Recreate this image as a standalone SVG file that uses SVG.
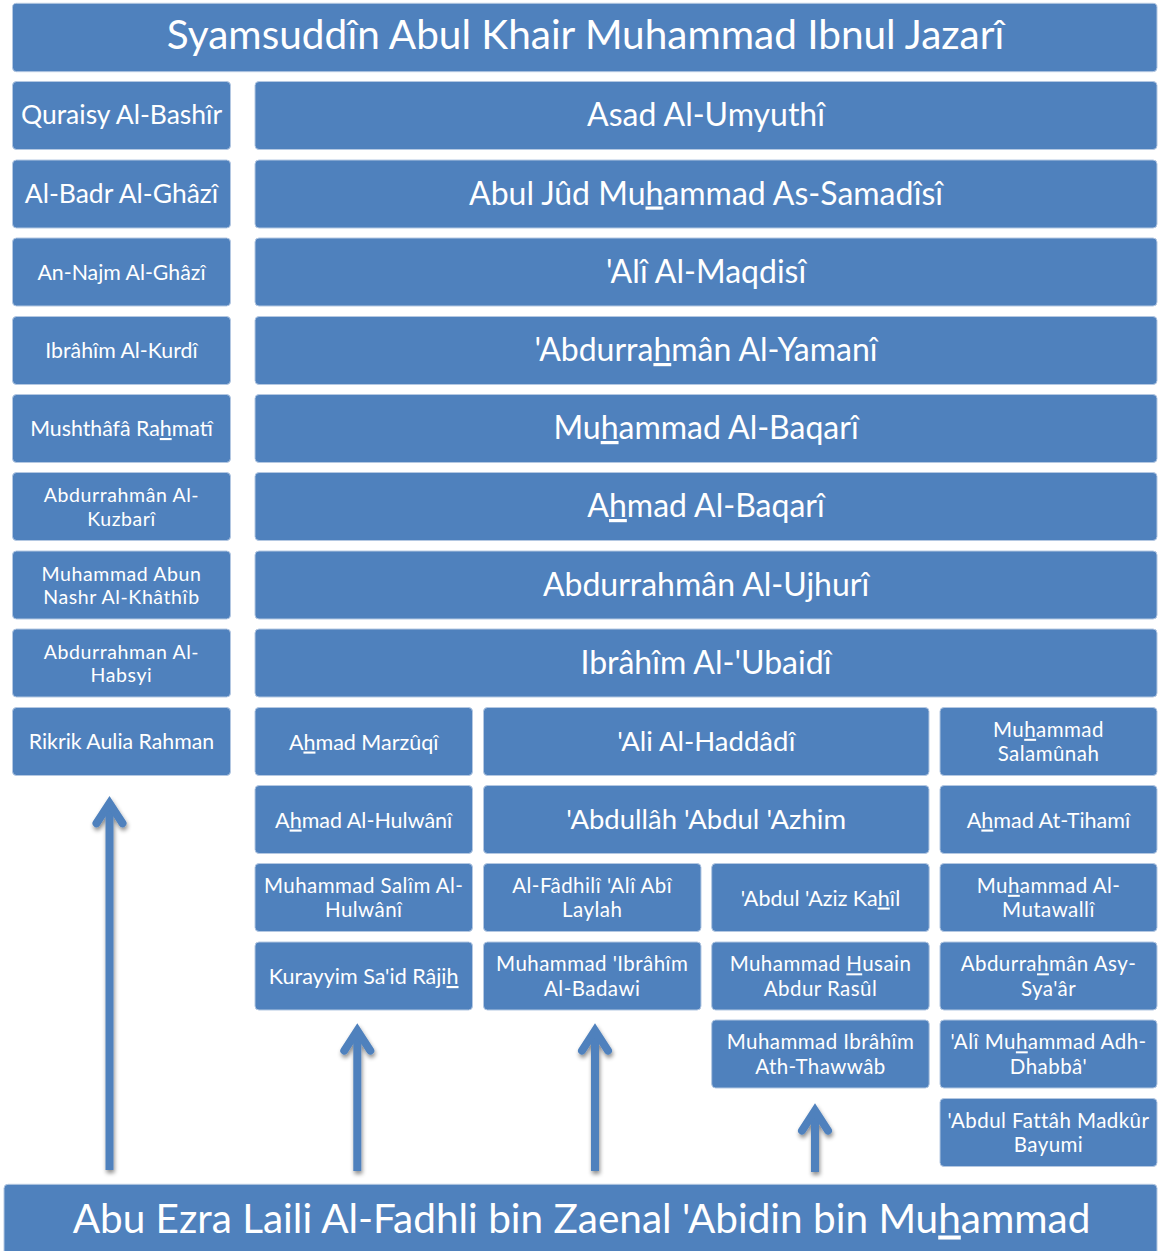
<svg xmlns="http://www.w3.org/2000/svg" width="1164" height="1251" viewBox="0 0 1164 1251">
<style>
.b{fill:#4F81BD;stroke:#B4C8E2;stroke-width:1}
text{font-family:Lato,"Open Sans","DejaVu Sans",sans-serif;fill:#FFFFFF;text-anchor:middle}
.t38{font-size:40.5px}
.t30{font-size:32px}
.t25{font-size:26.5px}
.t24{font-size:27.5px}
.t20{font-size:21.5px}
.t19{font-size:21.3px}
.m20{font-size:20.5px;letter-spacing:0.45px}
.m19{font-size:19.5px;letter-spacing:0.6px}
.u{text-decoration:underline}
.arr{fill:none;stroke:#4F81BD;stroke-width:8}
</style>
<defs>
<filter id="sh" x="-50%" y="-10%" width="200%" height="120%">
<feDropShadow dx="1" dy="3" stdDeviation="2" flood-color="#000" flood-opacity="0.45"/>
</filter>
</defs>
<rect width="1164" height="1251" fill="#FFFFFF"/>

<g id="connectors" filter="url(#sh)">
<g class="arr">
<path d="M109.5,1170 V804"/><path d="M96.5,823.3 L109.5,803.3 L122.5,823.3" stroke-linecap="round"/>
<path d="M357.3,1171 V1031"/><path d="M344.3,1050.6 L357.3,1030.6 L370.3,1050.6" stroke-linecap="round"/>
<path d="M595,1171 V1031"/><path d="M582,1050.6 L595,1030.6 L608,1050.6" stroke-linecap="round"/>
<path d="M815,1172 V1111"/><path d="M802,1130.6 L815,1110.6 L828,1130.6" stroke-linecap="round"/>
</g>
</g>

<g id="n-top"><rect class="b" x="12.5" y="3.3" width="1144.5" height="68.4" rx="4"/><text class="t38" x="585.5" y="49">Syamsuddîn Abul Khair Muhammad Ibnul Jazarî</text></g>

<g id="n-l0"><rect class="b" x="12.5" y="81.5" width="218" height="68" rx="4"/><text class="t25" x="121.5" y="124">Quraisy Al-Bashîr</text></g>
<g id="n-l1"><rect class="b" x="12.5" y="160" width="218" height="68" rx="4"/><text class="t25" x="121.5" y="202.5">Al-Badr Al-Ghâzî</text></g>
<g id="n-l2"><rect class="b" x="12.5" y="238" width="218" height="68" rx="4"/><text class="t19" x="121.5" y="279.5">An-Najm Al-Ghâzî</text></g>
<g id="n-l3"><rect class="b" x="12.5" y="316.5" width="218" height="68" rx="4"/><text class="t19" x="121.5" y="358">Ibrâhîm Al-Kurdî</text></g>
<g id="n-l4"><rect class="b" x="12.5" y="394.5" width="218" height="68" rx="4"/><text class="t19" x="121.5" y="436">Mushthâfâ Ra<tspan class="u">h</tspan>matî</text></g>
<g id="n-l5"><rect class="b" x="12.5" y="472.5" width="218" height="68" rx="4"/><text class="m19" x="121.5" y="502.2">Abdurrahmân Al-<tspan x="121.5" dy="23.4">Kuzbarî</tspan></text></g>
<g id="n-l6"><rect class="b" x="12.5" y="551" width="218" height="68" rx="4"/><text class="m19" x="121.5" y="580.6">Muhammad Abun<tspan x="121.5" dy="23.4">Nashr Al-Khâthîb</tspan></text></g>
<g id="n-l7"><rect class="b" x="12.5" y="629" width="218" height="68" rx="4"/><text class="m19" x="121.5" y="658.6">Abdurrahman Al-<tspan x="121.5" dy="23.4">Habsyi</tspan></text></g>
<g id="n-l8"><rect class="b" x="12.5" y="707.5" width="218" height="68" rx="4"/><text class="t19" x="121.5" y="749">Rikrik Aulia Rahman</text></g>

<g id="n-r0"><rect class="b" x="255" y="81.5" width="902" height="68" rx="4"/><text class="t30" x="706" y="126">Asad Al-Umyuthî</text></g>
<g id="n-r1"><rect class="b" x="255" y="160" width="902" height="68" rx="4"/><text class="t30" x="706" y="204.5">Abul Jûd Mu<tspan class="u">h</tspan>ammad As-Samadîsî</text></g>
<g id="n-r2"><rect class="b" x="255" y="238" width="902" height="68" rx="4"/><text class="t30" x="706" y="282.5">'Alî Al-Maqdisî</text></g>
<g id="n-r3"><rect class="b" x="255" y="316.5" width="902" height="68" rx="4"/><text class="t30" x="706" y="361">'Abdurra<tspan class="u">h</tspan>mân Al-Yamanî</text></g>
<g id="n-r4"><rect class="b" x="255" y="394.5" width="902" height="68" rx="4"/><text class="t30" x="706" y="439">Mu<tspan class="u">h</tspan>ammad Al-Baqarî</text></g>
<g id="n-r5"><rect class="b" x="255" y="472.5" width="902" height="68" rx="4"/><text class="t30" x="706" y="517">A<tspan class="u">h</tspan>mad Al-Baqarî</text></g>
<g id="n-r6"><rect class="b" x="255" y="551" width="902" height="68" rx="4"/><text class="t30" x="706" y="595.5">Abdurrahmân Al-Ujhurî</text></g>
<g id="n-r7"><rect class="b" x="255" y="629" width="902" height="68" rx="4"/><text class="t30" x="706" y="673.5">Ibrâhîm Al-'Ubaidî</text></g>

<g id="n-a8"><rect class="b" x="255" y="707.5" width="217.5" height="68" rx="4"/><text class="t20" x="363.7" y="749.5">A<tspan class="u">h</tspan>mad Marzûqî</text></g>
<g id="n-bc8"><rect class="b" x="483.5" y="707.5" width="445.5" height="68" rx="4"/><text class="t24" x="706.2" y="750.5">'Ali Al-Haddâdî</text></g>
<g id="n-d8"><rect class="b" x="940" y="707.5" width="217" height="68" rx="4"/><text class="m20" x="1048.5" y="736.8">Mu<tspan class="u">h</tspan>ammad<tspan x="1048.5" dy="24.6">Salamûnah</tspan></text></g>

<g id="n-a9"><rect class="b" x="255" y="785.5" width="217.5" height="68" rx="4"/><text class="t20" x="363.7" y="827.5">A<tspan class="u">h</tspan>mad Al-Hulwânî</text></g>
<g id="n-bc9"><rect class="b" x="483.5" y="785.5" width="445.5" height="68" rx="4"/><text class="t24" x="706.2" y="828.5">'Abdullâh 'Abdul 'Azhim</text></g>
<g id="n-d9"><rect class="b" x="940" y="785.5" width="217" height="68" rx="4"/><text class="t20" x="1048.5" y="827.5">A<tspan class="u">h</tspan>mad At-Tihamî</text></g>

<g id="n-a10"><rect class="b" x="255" y="863.5" width="217.5" height="68" rx="4"/><text class="m20" x="363.7" y="892.8">Muhammad Salîm Al-<tspan x="363.7" dy="24.6">Hulwânî</tspan></text></g>
<g id="n-b10"><rect class="b" x="483.5" y="863.5" width="217.5" height="68" rx="4"/><text class="m20" x="592.2" y="892.8">Al-Fâdhilî 'Alî Abî<tspan x="592.2" dy="24.6">Laylah</tspan></text></g>
<g id="n-c10"><rect class="b" x="711.7" y="863.5" width="217.5" height="68" rx="4"/><text class="t20" x="820.5" y="905.5">'Abdul 'Aziz Ka<tspan class="u">h</tspan>îl</text></g>
<g id="n-d10"><rect class="b" x="940" y="863.5" width="217" height="68" rx="4"/><text class="m20" x="1048.5" y="892.8">Mu<tspan class="u">h</tspan>ammad Al-<tspan x="1048.5" dy="24.6">Mutawallî</tspan></text></g>

<g id="n-a11"><rect class="b" x="255" y="942" width="217.5" height="68" rx="4"/><text class="t20" x="363.7" y="984">Kurayyim Sa'id Râji<tspan class="u">h</tspan></text></g>
<g id="n-b11"><rect class="b" x="483.5" y="942" width="217.5" height="68" rx="4"/><text class="m20" x="592.2" y="971.3">Muhammad 'Ibrâhîm<tspan x="592.2" dy="24.6">Al-Badawi</tspan></text></g>
<g id="n-c11"><rect class="b" x="711.7" y="942" width="217.5" height="68" rx="4"/><text class="m20" x="820.5" y="971.3">Muhammad <tspan class="u">H</tspan>usain<tspan x="820.5" dy="24.6">Abdur Rasûl</tspan></text></g>
<g id="n-d11"><rect class="b" x="940" y="942" width="217" height="68" rx="4"/><text class="m20" x="1048.5" y="971.3">Abdurra<tspan class="u">h</tspan>mân Asy-<tspan x="1048.5" dy="24.6">Sya'âr</tspan></text></g>

<g id="n-c12"><rect class="b" x="711.7" y="1020" width="217.5" height="68" rx="4"/><text class="m20" x="820.5" y="1049.3">Muhammad Ibrâhîm<tspan x="820.5" dy="24.6">Ath-Thawwâb</tspan></text></g>
<g id="n-d12"><rect class="b" x="940" y="1020" width="217" height="68" rx="4"/><text class="m20" x="1048.5" y="1049.3">'Alî Mu<tspan class="u">h</tspan>ammad Adh-<tspan x="1048.5" dy="24.6">Dhabbâ'</tspan></text></g>

<g id="n-d13"><rect class="b" x="940" y="1098.5" width="217" height="68" rx="4"/><text class="m20" x="1048.5" y="1127.8">'Abdul Fattâh Madkûr<tspan x="1048.5" dy="24.6">Bayumi</tspan></text></g>

<g id="n-bottom"><rect class="b" x="4" y="1184.3" width="1153" height="80" rx="4"/><text class="t38" x="581.5" y="1232.5">Abu Ezra Laili Al-Fadhli bin Zaenal 'Abidin bin Mu<tspan class="u">h</tspan>ammad</text></g>
</svg>
